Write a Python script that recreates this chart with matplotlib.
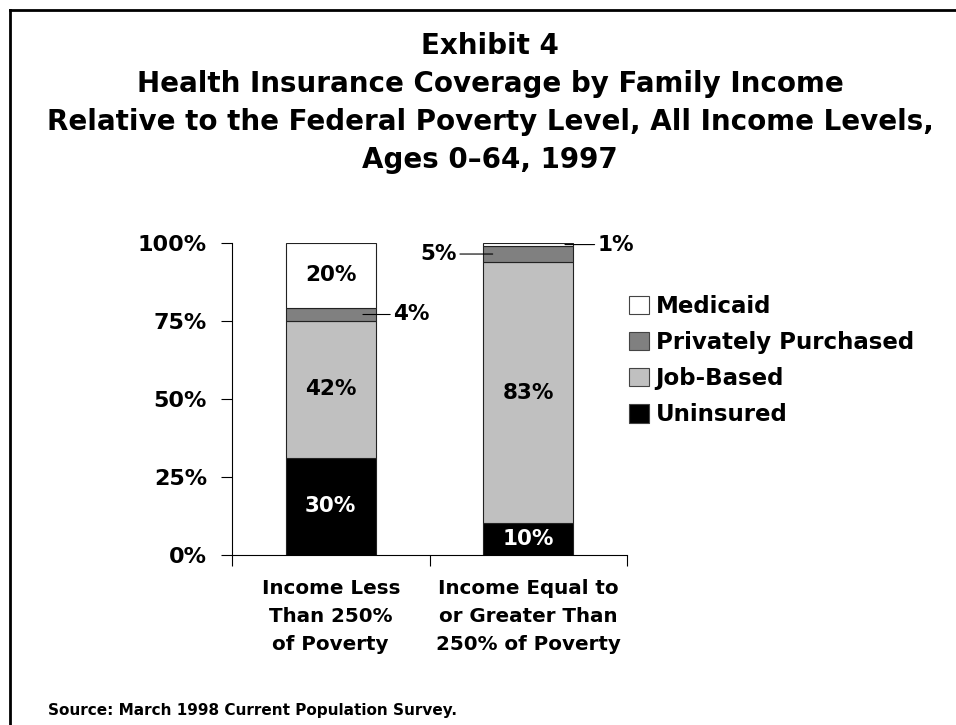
import matplotlib
matplotlib.use("Agg")
import matplotlib.pyplot as plt
from matplotlib.lines import Line2D
from matplotlib.patches import Patch

categories = ["Income Less\nThan 250%\nof Poverty",
              "Income Equal to\nor Greater Than\n250% of Poverty"]
series = ["Uninsured", "Job-Based", "Privately Purchased", "Medicaid"]
uninsured = [30, 10]
job_based = [42, 83]
private = [4, 5]
medicaid = [20, 1]
yticks = [0, 25, 50, 75, 100]
ytick_labels = ["0%", "25%", "50%", "75%", "100%"]
title_lines = ["Exhibit 4",
               "Health Insurance Coverage by Family Income",
               "Relative to the Federal Poverty Level, All Income Levels,",
               "Ages 0\u201364, 1997"]

colors = {"Uninsured": "#000000", "Job-Based": "#c0c0c0",
          "Privately Purchased": "#808080", "Medicaid": "#ffffff"}

font = ["DejaVu Sans"]

W, H = 956, 725
fig = plt.figure(figsize=(W / 100, H / 100), dpi=100)

# frame (only top and left visible in the original)
fig.add_artist(Line2D([10 / W, 1], [1 - 10 / H, 1 - 10 / H], color="black", lw=2))
fig.add_artist(Line2D([10 / W, 10 / W], [0, 1 - 10 / H], color="black", lw=2))

for i, line in enumerate(title_lines):
    fig.text(490 / W, 1 - (46 + 38 * i) / H, line, ha="center", va="center",
             fontsize=20, fontweight="bold", family=font)

ax = fig.add_axes([232 / W, (H - 555) / H, (627 - 232) / W, (555 - 243) / H])

data = [uninsured, job_based, private, medicaid]
totals = [sum(col) for col in zip(*data)]
xs = [0.5, 1.5]
bw = 0.455
bottoms = [0.0, 0.0]
mids = {}
for name, vals in zip(series, data):
    heights = [v / t * 100 for v, t in zip(vals, totals)]
    ax.bar(xs, heights, bw, bottom=bottoms, color=colors[name],
           edgecolor="#222222", linewidth=0.8)
    mids[name] = [b + h / 2 for b, h in zip(bottoms, heights)]
    bottoms = [b + h for b, h in zip(bottoms, heights)]

lab_kw = dict(ha="center", va="center", fontsize=15.5, fontweight="bold", family=font)
ax.text(xs[0], mids["Medicaid"][0], f"{medicaid[0]}%", color="black", **lab_kw)
ax.text(xs[0], mids["Job-Based"][0], f"{job_based[0]}%", color="black", **lab_kw)
ax.text(xs[0], mids["Uninsured"][0], f"{uninsured[0]}%", color="white", **lab_kw)
ax.text(xs[1], mids["Job-Based"][1], f"{job_based[1]}%", color="black", **lab_kw)
ax.text(xs[1], mids["Uninsured"][1], f"{uninsured[1]}%", color="white", **lab_kw)

# callouts for thin segments
ann_kw = dict(fontsize=15.5, fontweight="bold", family=font, va="center",
              arrowprops=dict(arrowstyle="-", color="black", lw=0.8,
                              shrinkA=0, shrinkB=0))
y4 = mids["Privately Purchased"][0]
ax.annotate(f"{private[0]}%", xy=(0.663, y4), xytext=(0.815, y4), ha="left", **ann_kw)
y5 = mids["Privately Purchased"][1]
ax.annotate(f"{private[1]}%", xy=(1.32, y5), xytext=(1.14, y5), ha="right", **ann_kw)
y1 = mids["Medicaid"][1]
ax.annotate(f"{medicaid[1]}%", xy=(1.686, y1), xytext=(1.85, y1), ha="left", **ann_kw)

ax.set_xlim(0, 2)
ax.set_ylim(0, 100)
ax.set_yticks(yticks)
ax.set_yticklabels(ytick_labels, fontsize=16, fontweight="bold", family=font)
ax.set_xticks([0, 1, 2])
ax.set_xticklabels([])
ax.tick_params(axis="y", length=8, width=0.8, pad=10, colors="black")
ax.tick_params(axis="x", length=8, width=0.8, direction="out")
for s in ["top", "right"]:
    ax.spines[s].set_visible(False)
for s in ["left", "bottom"]:
    ax.spines[s].set_linewidth(0.8)

for x, lab in zip(xs, categories):
    ax.text(x, -19.6, lab, ha="center", va="center", fontsize=14.3, fontweight="bold",
            family=font, linespacing=1.6)

handles = [Patch(facecolor=colors[n], edgecolor="#444444", linewidth=0.8)
           for n in reversed(series)]
fig.legend(handles, list(reversed(series)), loc="upper left",
           bbox_to_anchor=(620 / W, 1 - 286 / H), frameon=False,
           prop=dict(family=font, weight="bold", size=16.5),
           handlelength=0.85, handleheight=0.85, handletextpad=0.3,
           labelspacing=0.57, borderaxespad=0)

fig.text(48 / W, 1 - 710 / H, "Source: March 1998 Current Population Survey.",
         ha="left", va="center", fontsize=11, fontweight="bold", family=font)

fig.savefig("out.png", dpi=100)
